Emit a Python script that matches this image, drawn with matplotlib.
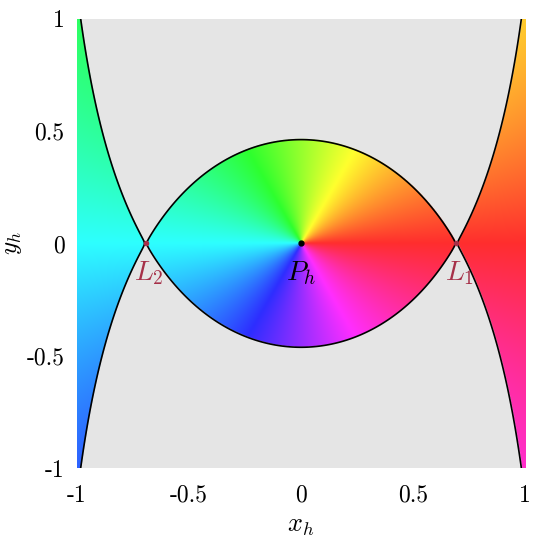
import numpy as np
import matplotlib
matplotlib.use("Agg")
import matplotlib.pyplot as plt
from matplotlib.colors import hsv_to_rgb

plt.rcParams["mathtext.fontset"] = "cm"

# Hill problem: zero-velocity curve through L1/L2
jacobi_c = 4.327
point_names = ["$L_1$", "$L_2$"]
point_x = [0.693, -0.693]
point_y = [0.0, 0.0]
primary_name = "$P_h$"
ticks = [-1, -0.5, 0, 0.5, 1]
tick_labels = ["-1", "-0.5", "0", "0.5", "1"]

n = 900
xs = np.linspace(-1, 1, n)
ys = np.linspace(-1, 1, n)
X, Y = np.meshgrid(xs, ys)
R = np.sqrt(X**2 + Y**2)
R[R == 0] = 1e-9
J = 3 * X**2 + 2 / R

hue = (np.arctan2(Y, X) / (2 * np.pi)) % 1.0
hsv = np.dstack([hue, np.full_like(hue, 0.82), np.ones_like(hue)])
rgb = hsv_to_rgb(hsv)
rgba = np.dstack([rgb, (J >= jacobi_c).astype(float)])

fig = plt.figure(figsize=(5.38, 5.38), dpi=100)
ax = fig.add_axes([0.143, 0.13, 0.833, 0.835])
ax.set_facecolor("#e5e5e5")
ax.imshow(rgba, extent=[-1, 1, -1, 1], origin="lower", interpolation="bilinear", aspect="auto")
ax.contour(X, Y, J, levels=[jacobi_c], colors="black", linewidths=1.2)

ax.plot(0, 0, "o", color="black", ms=3.5)
ax.text(0, -0.13, primary_name, fontsize=20, ha="center", va="center")
for name, px, py in zip(point_names, point_x, point_y):
    ax.plot(px, py, "o", color="#a63048", ms=3)
    ax.text(px - 0.052, py - 0.13, name, fontsize=20, color="#a63048", ha="left", va="center")

ax.set_xlim(-1, 1)
ax.set_ylim(-1, 1)
for s in ax.spines.values():
    s.set_visible(False)
ax.set_xticks(ticks)
ax.set_yticks(ticks)
ax.set_xticklabels(tick_labels, fontfamily="cmr10", fontsize=17)
ax.set_yticklabels(tick_labels, fontfamily="cmr10", fontsize=17)
ax.tick_params(axis="x", length=0, pad=12)
ax.tick_params(axis="y", length=0, pad=9)
ax.set_xlabel("$x_h$", fontsize=19, labelpad=4)
ax.set_ylabel("$y_h$", fontsize=18, labelpad=2)

fig.savefig("out.png", dpi=100)
